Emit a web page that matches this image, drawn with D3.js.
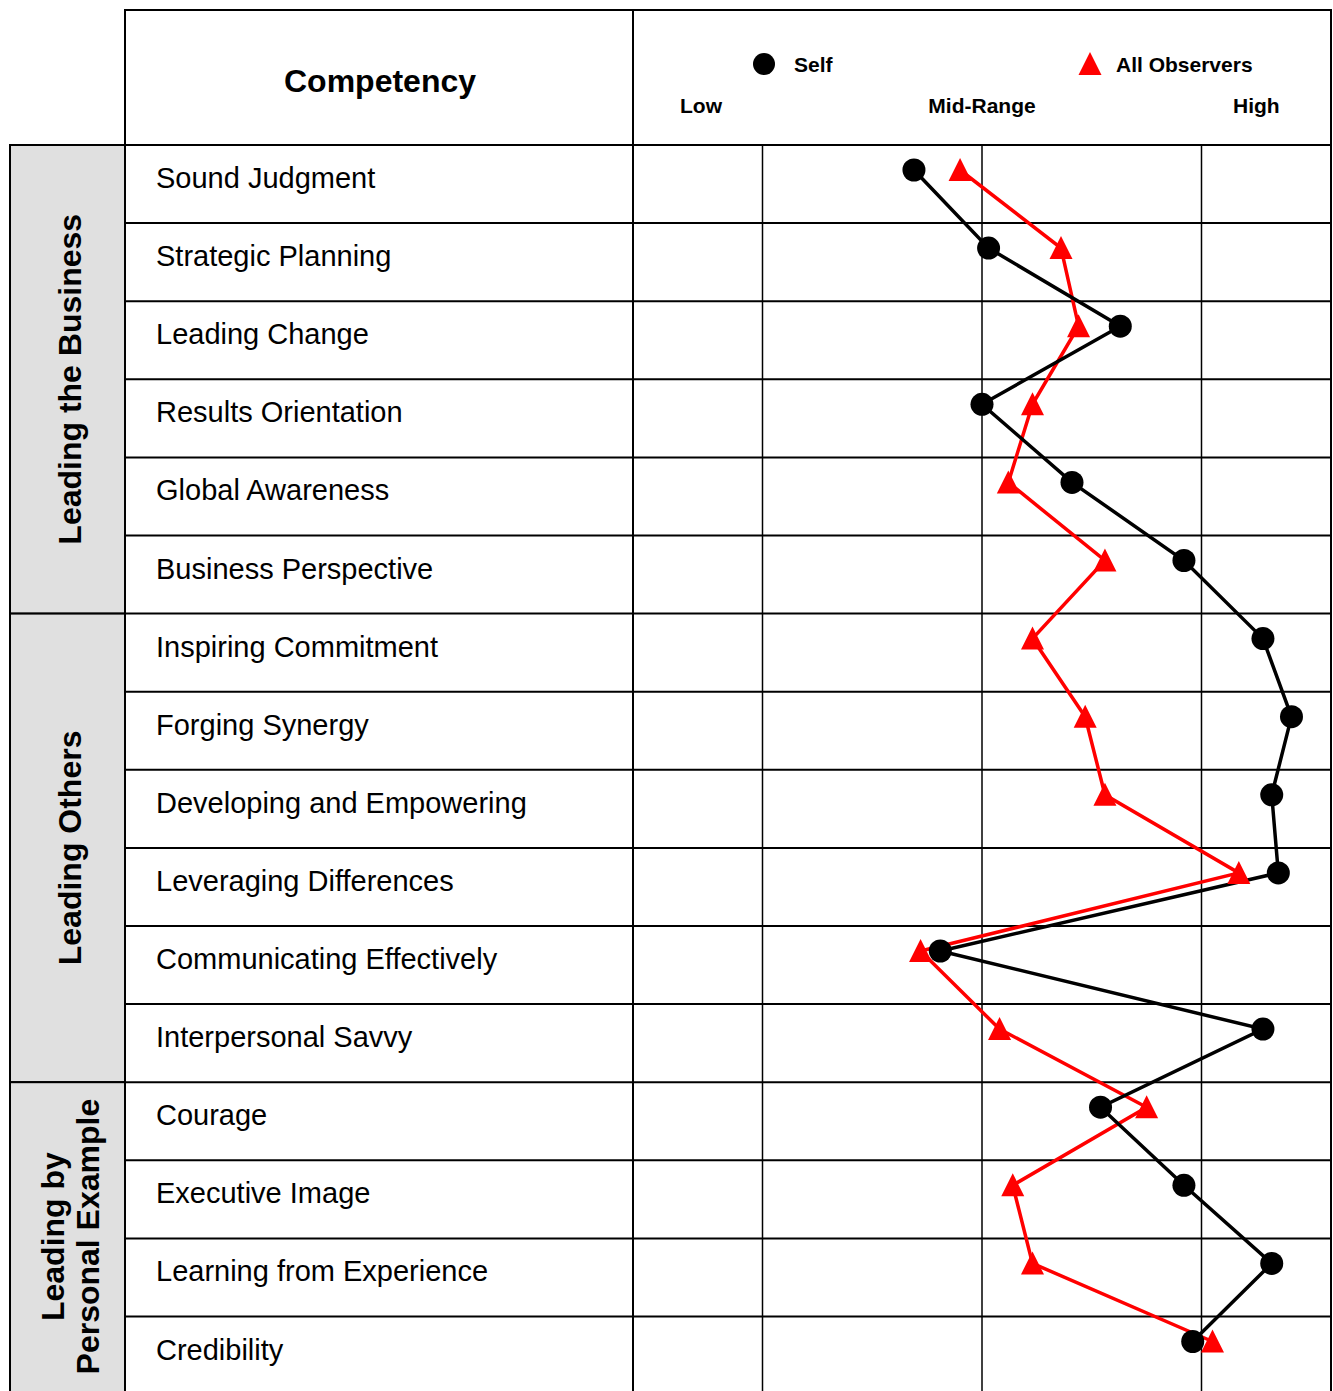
<!DOCTYPE html>
<html>
<head>
<meta charset="utf-8">
<script src="https://cdn.jsdelivr.net/npm/d3@7"></script>
<style>
  body { margin: 0; background: #fff; }
  text { font-family: "Liberation Sans", Arial, sans-serif; }
</style>
</head>
<body>
<svg id="chart" width="1333" height="1391"></svg>
<script>
const competencies = [
  "Sound Judgment", "Strategic Planning", "Leading Change", "Results Orientation",
  "Global Awareness", "Business Perspective", "Inspiring Commitment", "Forging Synergy",
  "Developing and Empowering", "Leveraging Differences", "Communicating Effectively",
  "Interpersonal Savvy", "Courage", "Executive Image", "Learning from Experience", "Credibility"
]
const groups = [
  { name: ["Leading the Business"], count: 6 },
  { name: ["Leading Others"], count: 6 },
  { name: ["Leading by", "Personal Example"], count: 4 }
]
const selfScores = [2.69, 3.03, 3.63, 3.00, 3.41, 3.92, 4.28, 4.41, 4.32, 4.35, 2.81, 4.28, 3.54, 3.92, 4.32, 3.96]
const observerScores = [2.90, 3.36, 3.44, 3.23, 3.12, 3.56, 3.23, 3.47, 3.56, 4.17, 2.72, 3.08, 3.75, 3.14, 3.23, 4.05]
const gridValues = [2, 3, 4]
const scaleLabels = [{ text: "Low", v: 1.72 }, { text: "Mid-Range", v: 3 }, { text: "High", v: 4.25 }]

const LEFT = 10, COL1 = 125, COL2 = 633, RIGHT = 1331
const TOP = 10, HEAD = 145, ROW = 78.1

const svg = d3.select("#chart")

const x = d3.scaleLinear().domain([1.41, 4.59]).range([COL2, RIGHT])
const y = d3.scaleBand().domain(competencies).range([HEAD, HEAD + ROW * competencies.length])

// taller-than-equilateral triangle, like the original marker
const tri = "M0,-12L11.5,11L-11.5,11Z"

// group column
let start = 0
groups.forEach(function(g) {
  const y0 = y(competencies[start])
  const y1 = y(competencies[start + g.count - 1]) + ROW
  svg.append("rect")
    .attr("x", LEFT).attr("y", y0)
    .attr("width", COL1 - LEFT).attr("height", y1 - y0)
    .attr("fill", "#e0e0e0").attr("stroke", "#000").attr("stroke-width", 2)
  const cy = (y0 + Math.min(y1, 1391)) / 2
  const t = svg.append("text")
    .attr("transform", "translate(" + 70 + "," + cy + ") rotate(-90)")
    .attr("text-anchor", "middle")
    .attr("font-weight", "bold").attr("font-size", 32)
  g.name.forEach(function(line, i) {
    t.append("tspan")
      .attr("x", 0)
      .attr("dy", i === 0 ? (11 - (g.name.length - 1) * 17) : 35)
      .text(line)
  })
  start += g.count
})

// table lines
svg.append("rect")
  .attr("x", COL1).attr("y", TOP)
  .attr("width", RIGHT - COL1).attr("height", 1391 + 10 - TOP)
  .attr("fill", "none").attr("stroke", "#000").attr("stroke-width", 2)

svg.append("line")
  .attr("x1", COL2).attr("x2", COL2).attr("y1", TOP).attr("y2", 1391)
  .attr("stroke", "#000").attr("stroke-width", 2)

svg.selectAll(".rowline")
  .data(competencies)
  .enter().append("line")
  .attr("class", "rowline")
  .attr("x1", COL1).attr("x2", RIGHT)
  .attr("y1", d => y(d)).attr("y2", d => y(d))
  .attr("stroke", "#000").attr("stroke-width", 2)

svg.selectAll(".grid")
  .data(gridValues)
  .enter().append("line")
  .attr("class", "grid")
  .attr("x1", d => x(d)).attr("x2", d => x(d))
  .attr("y1", HEAD).attr("y2", 1391)
  .attr("stroke", "#000").attr("stroke-width", 1.5)

// header
svg.append("text")
  .attr("x", (COL1 + COL2) / 2 + 1).attr("y", 92)
  .attr("text-anchor", "middle")
  .attr("font-weight", "bold").attr("font-size", 32)
  .text("Competency")

svg.selectAll(".scalelabel")
  .data(scaleLabels)
  .enter().append("text")
  .attr("class", "scalelabel")
  .attr("x", d => x(d.v)).attr("y", 113)
  .attr("text-anchor", "middle")
  .attr("font-weight", "bold").attr("font-size", 21)
  .text(d => d.text)

svg.append("circle").attr("cx", 764).attr("cy", 64).attr("r", 11).attr("fill", "#000")
svg.append("text").attr("x", 794).attr("y", 72)
  .attr("font-weight", "bold").attr("font-size", 21).text("Self")
svg.append("path")
  .attr("d", tri)
  .attr("transform", "translate(1090,64)")
  .attr("fill", "#ff0000")
svg.append("text").attr("x", 1116).attr("y", 72)
  .attr("font-weight", "bold").attr("font-size", 21).text("All Observers")

// competency names
svg.selectAll(".name")
  .data(competencies)
  .enter().append("text")
  .attr("class", "name")
  .attr("x", 156).attr("y", d => y(d) + 43)
  .attr("font-size", 29)
  .text(d => d)

// series
const OFF = 25
const lineGen = d3.line()
  .x(d => x(d.v))
  .y(d => y(d.c) + OFF)

const selfData = competencies.map((c, i) => ({ c: c, v: selfScores[i] }))
const obsData = competencies.map((c, i) => ({ c: c, v: observerScores[i] }))

svg.append("path")
  .attr("d", lineGen(obsData))
  .attr("fill", "none").attr("stroke", "#ff0000").attr("stroke-width", 3.5)
svg.append("path")
  .attr("d", lineGen(selfData))
  .attr("fill", "none").attr("stroke", "#000").attr("stroke-width", 3.5)

svg.selectAll(".obs")
  .data(obsData)
  .enter().append("path")
  .attr("class", "obs")
  .attr("d", tri)
  .attr("transform", d => "translate(" + x(d.v) + "," + (y(d.c) + OFF) + ")")
  .attr("fill", "#ff0000")

svg.selectAll(".self")
  .data(selfData)
  .enter().append("circle")
  .attr("class", "self")
  .attr("cx", d => x(d.v)).attr("cy", d => y(d.c) + OFF)
  .attr("r", 11.5)
  .attr("fill", "#000")
</script>
</body>
</html>
